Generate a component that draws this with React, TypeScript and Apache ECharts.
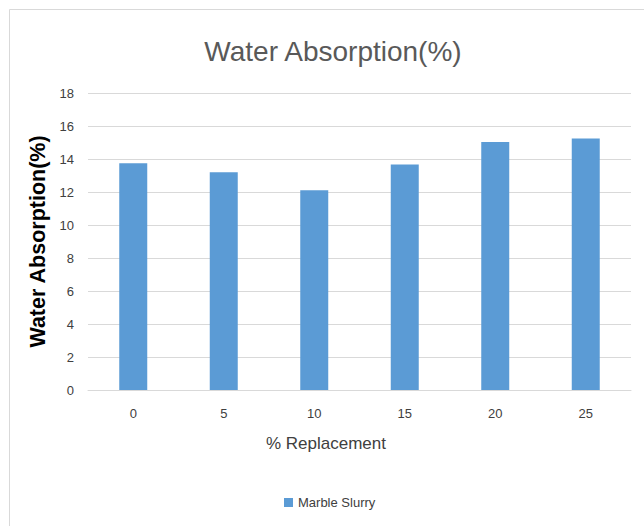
import React, { useEffect, useRef } from "react";
import * as echarts from "echarts";

const categories = ["0", "5", "10", "15", "20", "25"];
const marbleSlurry = [13.74, 13.19, 12.1, 13.66, 15.03, 15.25];
const yTicks = { min: 0, max: 18, interval: 2 };

export default function App() {
  const ref = useRef<HTMLDivElement>(null);

  useEffect(() => {
    if (!ref.current) return;
    const chart = echarts.init(ref.current, null, { renderer: "svg" });
    const font = "'Liberation Sans', Arial, sans-serif";
    chart.setOption({
      animation: false,
      backgroundColor: "#ffffff",
      title: {
        text: "Water Absorption(%)",
        left: 328,
        textAlign: "center",
        top: 32,
        textStyle: {
          fontFamily: font,
          fontSize: 28,
          fontWeight: "normal",
          color: "#595959",
        },
      },
      legend: {
        data: ["Marble Slurry"],
        top: 491,
        left: 279,
        icon: "rect",
        itemWidth: 9,
        itemHeight: 9,
        itemGap: 4,
        textStyle: { fontFamily: font, fontSize: 13, color: "#404040" },
      },
      grid: { left: 88, right: 13, top: 93, bottom: 136 },
      xAxis: {
        type: "category",
        data: categories,
        axisLine: { lineStyle: { color: "#d9d9d9", width: 1 } },
        axisTick: { show: false },
        axisLabel: {
          fontFamily: font,
          fontSize: 13,
          color: "#404040",
          margin: 17,
        },
      },
      yAxis: {
        type: "value",
        min: yTicks.min,
        max: yTicks.max,
        interval: yTicks.interval,
        name: "Water Absorption(%)",
        nameLocation: "middle",
        nameGap: 35,
        nameTextStyle: {
          fontFamily: font,
          fontSize: 21.5,
          fontWeight: "bold",
          color: "#000000",
        },
        axisLine: { show: false },
        axisTick: { show: false },
        splitLine: { lineStyle: { color: "#d9d9d9", width: 1 } },
        axisLabel: {
          fontFamily: font,
          fontSize: 13,
          color: "#404040",
          margin: 14,
        },
      },
      series: [
        {
          name: "Marble Slurry",
          type: "bar",
          data: marbleSlurry,
          barWidth: 28,
          itemStyle: { color: "#5b9bd5" },
        },
      ],
      graphic: [
        {
          type: "text",
          left: 266,
          top: 435,
          style: {
            text: "% Replacement",
            font: "17px 'Liberation Sans', Arial, sans-serif",
            fill: "#404040",
          },
          silent: true,
        },
        {
          type: "line",
          shape: { x1: 9.5, y1: 9.5, x2: 644, y2: 9.5 },
          style: { stroke: "#d9d9d9", lineWidth: 1 },
          silent: true,
        },
        {
          type: "line",
          shape: { x1: 9.5, y1: 9.5, x2: 9.5, y2: 526 },
          style: { stroke: "#d9d9d9", lineWidth: 1 },
          silent: true,
        },
      ],
    });
    return () => chart.dispose();
  }, []);

  return (
    <div
      ref={ref}
      style={{ position: "fixed", left: 0, top: 0, width: 644, height: 526 }}
    />
  );
}
